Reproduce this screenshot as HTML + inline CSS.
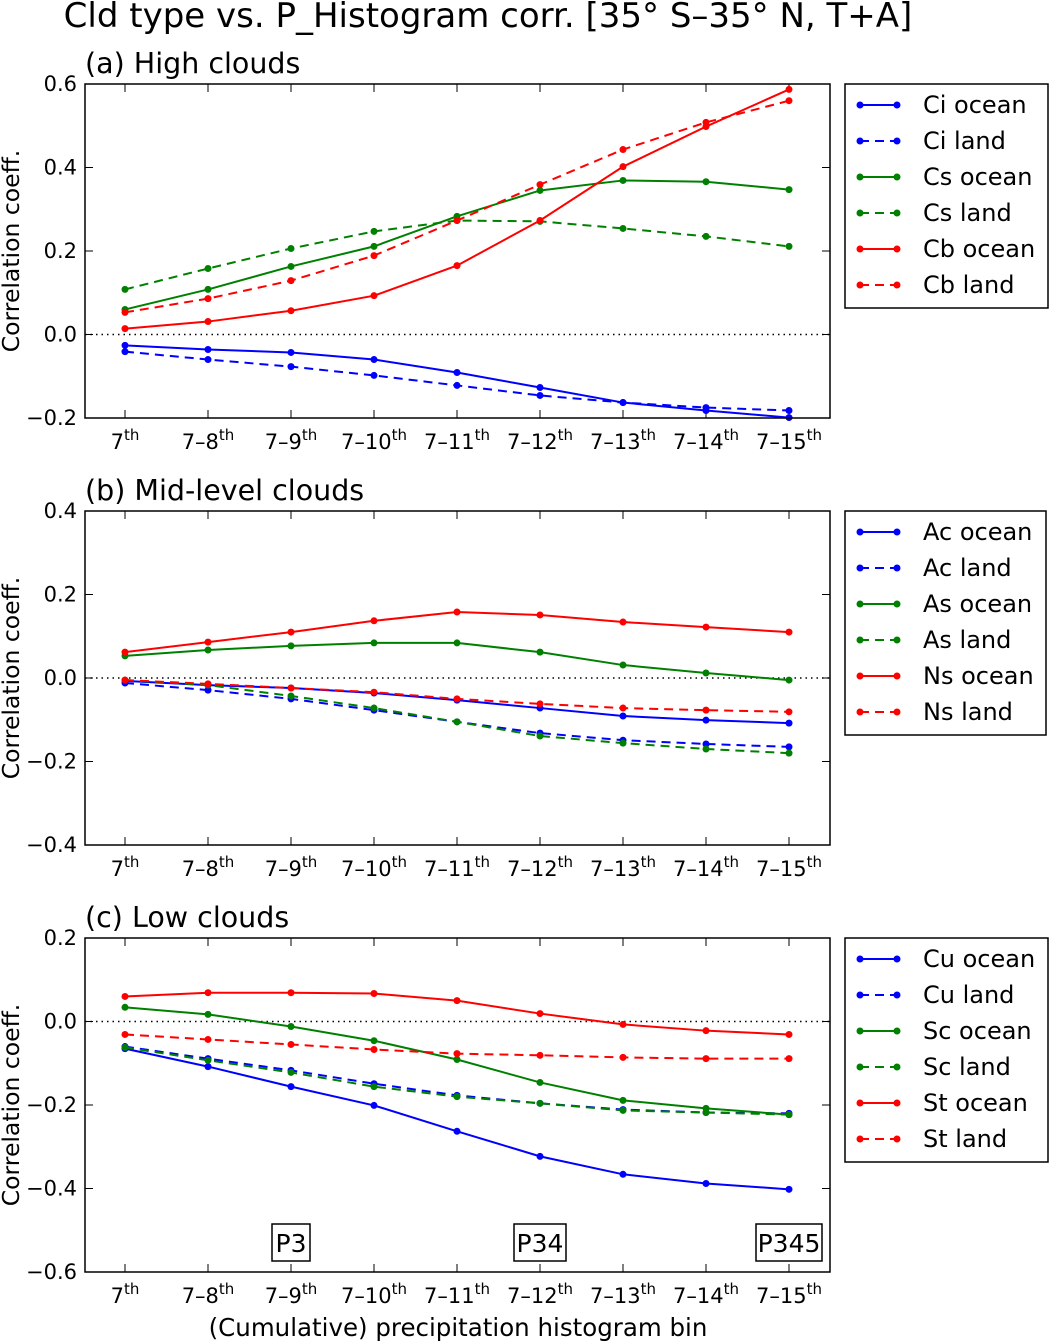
<!DOCTYPE html>
<html><head><meta charset="utf-8">
<style>
body{margin:0;background:#fff;}
svg{display:block;font-family:"DejaVu Sans","Liberation Sans",sans-serif;}
</style></head>
<body>
<svg id="fig" width="1051" height="1342" viewBox="0 0 1051 1342" xmlns="http://www.w3.org/2000/svg">
<text x="488" y="27" font-size="34" text-anchor="middle">Cld type vs. P_Histogram corr. [35° S–35° N, T+A]</text>
<text x="458" y="1336" font-size="24.5" text-anchor="middle">(Cumulative) precipitation histogram bin</text>
</svg>
<script>
const categories=["7","7–8","7–9","7–10","7–11","7–12","7–13","7–14","7–15"];
const highNames=["Ci ocean","Ci land","Cs ocean","Cs land","Cb ocean","Cb land"];
const ciOcean=[-0.026,-0.036,-0.043,-0.060,-0.091,-0.127,-0.163,-0.182,-0.199];
const ciLand=[-0.041,-0.060,-0.077,-0.098,-0.122,-0.146,-0.163,-0.175,-0.182];
const csOcean=[0.060,0.108,0.163,0.211,0.283,0.345,0.369,0.366,0.347];
const csLand=[0.108,0.158,0.206,0.247,0.273,0.271,0.254,0.235,0.211];
const cbOcean=[0.014,0.031,0.057,0.093,0.165,0.273,0.402,0.498,0.587];
const cbLand=[0.053,0.086,0.129,0.189,0.273,0.359,0.443,0.508,0.560];
const midNames=["Ac ocean","Ac land","As ocean","As land","Ns ocean","Ns land"];
const acOcean=[-0.007,-0.017,-0.024,-0.036,-0.053,-0.072,-0.091,-0.101,-0.108];
const acLand=[-0.012,-0.029,-0.050,-0.077,-0.105,-0.132,-0.149,-0.158,-0.165];
const asOcean=[0.053,0.067,0.077,0.084,0.084,0.062,0.031,0.012,-0.005];
const asLand=[-0.005,-0.017,-0.043,-0.072,-0.105,-0.139,-0.156,-0.170,-0.180];
const nsOcean=[0.062,0.086,0.110,0.137,0.158,0.151,0.134,0.122,0.110];
const nsLand=[-0.005,-0.014,-0.024,-0.034,-0.050,-0.062,-0.072,-0.077,-0.081];
const lowNames=["Cu ocean","Cu land","Sc ocean","Sc land","St ocean","St land"];
const cuOcean=[-0.065,-0.108,-0.156,-0.201,-0.263,-0.323,-0.366,-0.388,-0.402];
const cuLand=[-0.060,-0.089,-0.117,-0.149,-0.177,-0.196,-0.211,-0.218,-0.220];
const scOcean=[0.034,0.017,-0.012,-0.046,-0.091,-0.146,-0.189,-0.208,-0.223];
const scLand=[-0.062,-0.093,-0.122,-0.156,-0.180,-0.196,-0.213,-0.218,-0.223];
const stOcean=[0.060,0.069,0.069,0.067,0.050,0.019,-0.007,-0.022,-0.031];
const stLand=[-0.031,-0.043,-0.055,-0.067,-0.077,-0.081,-0.086,-0.089,-0.089];
const highTicks=[-0.2,0.0,0.2,0.4,0.6];
const midTicks=[-0.4,-0.2,0.0,0.2,0.4];
const lowTicks=[-0.6,-0.4,-0.2,0.0,0.2];
const pLabels=["P3","P34","P345"];
const pLabelBins=[2,5,8];

const NS="http://www.w3.org/2000/svg";
const svg=document.getElementById('fig');
function mk(tag,attrs,parent){const e=document.createElementNS(NS,tag);for(const k in attrs)e.setAttribute(k,attrs[k]);(parent||svg).appendChild(e);return e;}
const colors=["#0000ff","#0000ff","#008000","#008000","#ff0000","#ff0000"];
const X0=85,X1=830;
function xPos(i){return 125+i*83;}

function panel(key,title,top,ymin,ymax,ticks,names,series,legendW){
  const bottom=top+334;
  const y=v=>bottom-(v-ymin)/(ymax-ymin)*334;
  const g=mk('g',{});
  
  
  const t=mk('text',{x:85,y:top-11,'font-size':28.5},g);t.textContent=title;
  
  
  const z=mk('line',{x1:X0,x2:X1,y1:y(0),y2:y(0),stroke:'#000','stroke-width':1.5,'stroke-dasharray':'1.5,4'},g);
  
  
  ticks.forEach(v=>{
    const yy=y(v);
    mk('line',{x1:X0,x2:X0+8,y1:yy,y2:yy,stroke:'#000'},g);
    mk('line',{x1:X1,x2:X1-8,y1:yy,y2:yy,stroke:'#000'},g);
    const tl=mk('text',{x:X0-8,y:yy+7,'font-size':21,'text-anchor':'end'},g);
    tl.textContent=(v<0?'−':'')+Math.abs(v).toFixed(1);
    
    
  });
  categories.forEach((c,i)=>{
    const xx=xPos(i);
    mk('line',{x1:xx,x2:xx,y1:bottom,y2:bottom-8,stroke:'#000'},g);
    mk('line',{x1:xx,x2:xx,y1:top,y2:top+8,stroke:'#000'},g);
    const tl=mk('text',{x:xx,y:bottom+31,'font-size':21,'text-anchor':'middle'},g);
    
    
    tl.textContent=c;
    const s=mk('tspan',{'font-size':15,dy:-9},tl);s.textContent='th';
  });
  const yl=mk('text',{x:0,y:0,'font-size':23.5,'text-anchor':'middle',transform:`translate(19,${top+167}) rotate(-90)`},g);
  yl.textContent='Correlation coeff.';
  
  
  series.forEach((vals,k)=>{
    const pts=vals.map((v,i)=>xPos(i)+','+y(v)).join(' ');
    const pl=mk('polyline',{points:pts,fill:'none',stroke:colors[k],'stroke-width':2,'stroke-dasharray':k%2?'9,6':'none'},g);
    
    
    vals.forEach((v,i)=>{
      const c=mk('circle',{cx:xPos(i),cy:y(v),r:3.5,fill:colors[k]},g);
      
      
    });
  });
  const fr=mk('rect',{x:X0,y:top,width:X1-X0,height:334,fill:'none',stroke:'#000','stroke-width':1.5},g);
  
  
  const lg=mk('g',{},g);
  
  
  mk('rect',{x:845,y:top,width:legendW,height:224,fill:'#fff',stroke:'#000','stroke-width':1.5},lg);
  names.forEach((n,k)=>{
    const ly=top+21+k*36;
    const e=mk('g',{},lg);
    
    
    mk('line',{x1:860,x2:897,y1:ly,y2:ly,stroke:colors[k],'stroke-width':2,'stroke-dasharray':k%2?'9,6':'none'},e);
    mk('circle',{cx:860,cy:ly,r:3.5,fill:colors[k]},e);
    mk('circle',{cx:897,cy:ly,r:3.5,fill:colors[k]},e);
    const tt=mk('text',{x:923,y:ly+8,'font-size':24},e);tt.textContent=n;
  });
  return y;
}
panel('high','(a) High clouds',84,-0.2,0.6,highTicks,highNames,[ciOcean,ciLand,csOcean,csLand,cbOcean,cbLand],203);
panel('mid','(b) Mid-level clouds',511,-0.4,0.4,midTicks,midNames,[acOcean,acLand,asOcean,asLand,nsOcean,nsLand],201);
panel('low','(c) Low clouds',938,-0.6,0.2,lowTicks,lowNames,[cuOcean,cuLand,scOcean,scLand,stOcean,stLand],203);
pLabels.forEach((p,i)=>{
  const cx=xPos(pLabelBins[i]);
  const w=p.length*14+10;
  const r=mk('rect',{x:cx-w/2,y:1224,width:w,height:37,fill:'#fff',stroke:'#000','stroke-width':1.5});
  
  
  const t=mk('text',{x:cx,y:1252,'font-size':25,'text-anchor':'middle'});
  t.textContent=p;
  
  
});
</script>
</body></html>
